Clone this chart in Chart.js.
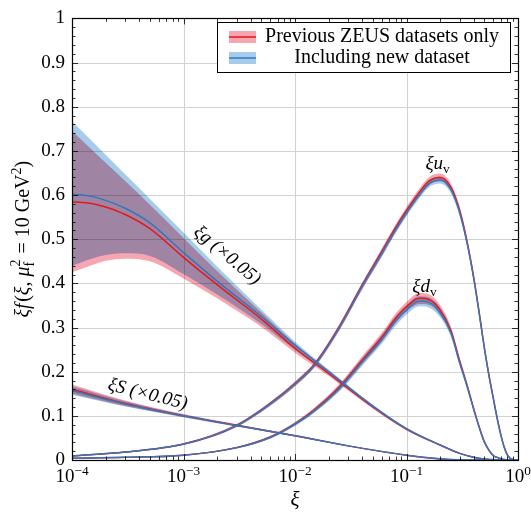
<!DOCTYPE html>
<html><head><meta charset="utf-8">
<script src="https://cdn.jsdelivr.net/npm/chart.js@4.4.1/dist/chart.umd.min.js"></script>
<style>html,body{margin:0;padding:0;background:#fff}#wrap{width:531px;height:512px}</style>
</head><body><div id="wrap"><canvas id="c" width="531" height="512"></canvas></div>
<script>
// ---------- data ----------
const xiGluon = [1e-4,1.5e-4,2e-4,3e-4,5e-4,1e-3,2e-3,5e-3,1e-2,2e-2,5e-2,0.1,0.2,0.3,0.5,0.7,1];
const gluonNew    = [0.602,0.597,0.588,0.570,0.537,0.470,0.405,0.325,0.260,0.200,0.122,0.071,0.034,0.015,0.002,0.0005,0];
const gluonPrev   = [0.585,0.581,0.573,0.556,0.524,0.459,0.397,0.319,0.253,0.196,0.120,0.070,0.034,0.015,0.002,0.0005,0];
const gluonNewHi  = [0.767,0.723,0.691,0.647,0.591,0.515,0.438,0.340,0.268,0.205,0.125,0.073,0.035,0.016,0.003,0.001,0];
const gluonNewLo  = [0.440,0.456,0.464,0.468,0.462,0.421,0.375,0.308,0.249,0.194,0.118,0.068,0.032,0.014,0.001,0,0];
const gluonPrevHi = [0.745,0.703,0.673,0.632,0.578,0.503,0.428,0.334,0.263,0.202,0.124,0.072,0.035,0.016,0.003,0.001,0];
const gluonPrevLo = [0.425,0.441,0.451,0.456,0.450,0.411,0.366,0.301,0.243,0.190,0.116,0.067,0.032,0.014,0.001,0,0];

const xiSea = [1e-4,3e-4,1e-3,3e-3,1e-2,3e-2,0.1,0.2,0.3,0.5,1];
const seaNew    = [0.157,0.127,0.100,0.078,0.055,0.032,0.011,0.003,0.0005,0,0];
const seaPrev   = [0.160,0.128,0.1005,0.0785,0.055,0.032,0.011,0.0025,0.0005,0,0];
const seaNewHi  = [0.167,0.133,0.103,0.080,0.056,0.033,0.012,0.003,0.001,0,0];
const seaNewLo  = [0.148,0.121,0.097,0.076,0.053,0.031,0.010,0.002,0,0,0];
const seaPrevHi = [0.171,0.135,0.104,0.081,0.057,0.033,0.012,0.003,0.001,0,0];
const seaPrevLo = [0.150,0.122,0.097,0.076,0.053,0.031,0.010,0.002,0,0,0];

const xiVal = [1e-4,3e-4,1e-3,3e-3,6e-3,0.01,0.015,0.025,0.04,0.06,0.08,0.1,0.13,0.16,0.2,0.25,0.3,0.35,0.4,0.45,0.5,0.55,0.6,0.65,0.7,0.75,0.8,0.85,0.9,1];
const uvNew    = [0.009,0.018,0.036,0.078,0.127,0.172,0.215,0.300,0.393,0.468,0.522,0.560,0.600,0.626,0.634,0.612,0.560,0.490,0.412,0.330,0.252,0.190,0.140,0.095,0.058,0.030,0.012,0.004,0.001,0];
const uvPrev   = [0.009,0.018,0.036,0.078,0.128,0.173,0.217,0.302,0.396,0.472,0.527,0.565,0.606,0.632,0.640,0.618,0.565,0.494,0.415,0.332,0.253,0.191,0.140,0.095,0.058,0.030,0.012,0.004,0.001,0];
const uvNewHi  = [0.010,0.019,0.038,0.081,0.131,0.177,0.220,0.306,0.400,0.476,0.530,0.568,0.608,0.634,0.642,0.620,0.568,0.497,0.418,0.335,0.256,0.193,0.142,0.097,0.059,0.031,0.013,0.004,0.001,0];
const uvNewLo  = [0.008,0.017,0.034,0.075,0.123,0.167,0.210,0.294,0.386,0.460,0.514,0.552,0.592,0.618,0.626,0.604,0.552,0.483,0.406,0.325,0.248,0.187,0.138,0.093,0.057,0.029,0.011,0.003,0.001,0];
const uvPrevHi = [0.010,0.019,0.038,0.082,0.132,0.178,0.222,0.308,0.402,0.479,0.534,0.573,0.614,0.641,0.649,0.626,0.573,0.501,0.421,0.337,0.257,0.194,0.142,0.097,0.059,0.031,0.013,0.004,0.001,0];
const uvPrevLo = [0.008,0.017,0.034,0.075,0.123,0.167,0.210,0.293,0.386,0.461,0.516,0.555,0.596,0.623,0.631,0.610,0.557,0.487,0.409,0.327,0.249,0.188,0.138,0.093,0.057,0.029,0.011,0.003,0.001,0];

const dvNew    = [0.004,0.006,0.011,0.028,0.051,0.081,0.112,0.162,0.222,0.273,0.315,0.340,0.360,0.357,0.334,0.288,0.220,0.166,0.115,0.073,0.040,0.022,0.010,0.006,0.003,0.001,0,0,0,0];
const dvPrev   = [0.004,0.006,0.011,0.028,0.052,0.082,0.114,0.165,0.226,0.278,0.321,0.347,0.366,0.363,0.340,0.293,0.224,0.169,0.117,0.074,0.041,0.022,0.010,0.006,0.003,0.001,0,0,0,0];
const dvNewHi  = [0.005,0.007,0.012,0.030,0.054,0.085,0.117,0.169,0.231,0.283,0.326,0.351,0.371,0.368,0.345,0.297,0.227,0.171,0.119,0.076,0.042,0.023,0.011,0.007,0.003,0.001,0,0,0,0];
const dvNewLo  = [0.003,0.005,0.010,0.026,0.048,0.077,0.107,0.155,0.213,0.263,0.304,0.329,0.348,0.345,0.323,0.279,0.213,0.161,0.111,0.070,0.038,0.021,0.009,0.005,0.002,0.001,0,0,0,0];
const dvPrevHi = [0.005,0.007,0.012,0.030,0.055,0.086,0.119,0.172,0.235,0.288,0.332,0.358,0.378,0.375,0.351,0.302,0.231,0.174,0.121,0.077,0.043,0.023,0.011,0.007,0.003,0.001,0,0,0,0];
const dvPrevLo = [0.003,0.005,0.010,0.026,0.049,0.078,0.109,0.158,0.217,0.268,0.310,0.336,0.353,0.351,0.329,0.284,0.217,0.164,0.113,0.071,0.039,0.021,0.009,0.005,0.002,0.001,0,0,0,0];

const yTicks = [0,0.1,0.2,0.3,0.4,0.5,0.6,0.7,0.8,0.9,1];
const xDecades = [-4,-3,-2,-1,0];
const legendLabels = ['Previous ZEUS datasets only','Including new dataset'];

// ---------- styles ----------
const RED_LINE = '#e3191c', BLUE_LINE = '#3576ba';
const RED_BAND = 'rgb(248,165,178)', BLUE_BAND = 'rgb(165,204,234)';
const FONT = '"Liberation Serif", "Times New Roman", serif';

const pts = (xs, ys) => xs.map((x, i) => ({x, y: ys[i]}));
function band(xs, hi, lo, color, order){
  const common = {pointRadius:0, borderWidth:0, borderColor:'rgba(0,0,0,0)', cubicInterpolationMode:'monotone', order, isBand:true};
  return [
    Object.assign({data: pts(xs, hi), fill:'+1', backgroundColor: color}, common),
    Object.assign({data: pts(xs, lo), fill:false, backgroundColor: color}, common)
  ];
}
function line(xs, ys, color, order){
  return {data: pts(xs, ys), fill:false, borderColor: color, borderWidth: 1.5, pointRadius: 0,
          cubicInterpolationMode:'monotone', order, isLine:true};
}

const datasets = [
  ...band(xiGluon, gluonPrevHi, gluonPrevLo, RED_BAND, 5),
  ...band(xiGluon, gluonNewHi, gluonNewLo, BLUE_BAND, 4),
  ...band(xiSea, seaPrevHi, seaPrevLo, RED_BAND, 5),
  ...band(xiSea, seaNewHi, seaNewLo, BLUE_BAND, 4),
  ...band(xiVal, uvPrevHi, uvPrevLo, RED_BAND, 5),
  ...band(xiVal, uvNewHi, uvNewLo, BLUE_BAND, 4),
  ...band(xiVal, dvPrevHi, dvPrevLo, RED_BAND, 5),
  ...band(xiVal, dvNewHi, dvNewLo, BLUE_BAND, 4),
  line(xiGluon, gluonPrev, RED_LINE, 1),
  line(xiSea, seaPrev, RED_LINE, 1),
  line(xiVal, uvPrev, RED_LINE, 1),
  line(xiVal, dvPrev, RED_LINE, 1),
  line(xiGluon, gluonNew, BLUE_LINE, 0),
  line(xiSea, seaNew, BLUE_LINE, 0),
  line(xiVal, uvNew, BLUE_LINE, 0),
  line(xiVal, dvNew, BLUE_LINE, 0)
];

// ---------- rich text helper ----------
function segFont(it, size){ return (it ? 'italic ' : '') + size + 'px ' + FONT; }
function layoutRich(ctx, segs, size){
  let w = 0;
  const out = [];
  for (const s of segs){
    if (s.stack){
      const ss = size*0.7;
      ctx.font = segFont(s.stack.supIt, ss); const w1 = ctx.measureText(s.stack.sup).width;
      ctx.font = segFont(s.stack.subIt, ss); const w2 = ctx.measureText(s.stack.sub).width;
      out.push({x:w, s, ss});
      w += Math.max(w1, w2) + size*0.05;
    } else {
      const ss = s.pos ? size*0.7 : size;
      ctx.font = segFont(s.it, ss);
      const mw = ctx.measureText(s.t).width;
      out.push({x:w, s, ss});
      w += mw + (s.kern || 0)*size;
    }
  }
  return {w, out};
}
function drawRich(ctx, segs, size, cx, cy, angleDeg, align){
  const L = layoutRich(ctx, segs, size);
  ctx.save();
  ctx.translate(cx, cy);
  ctx.rotate((angleDeg||0)*Math.PI/180);
  ctx.fillStyle = '#000';
  ctx.textBaseline = 'alphabetic';
  ctx.textAlign = 'left';
  const x0 = align === 'left' ? 0 : -L.w/2;
  const base = size*0.33;
  for (const o of L.out){
    const s = o.s;
    if (s.stack){
      ctx.font = segFont(s.stack.supIt, o.ss); ctx.fillText(s.stack.sup, x0+o.x, base - size*0.42);
      ctx.font = segFont(s.stack.subIt, o.ss); ctx.fillText(s.stack.sub, x0+o.x, base + size*0.25);
    } else {
      ctx.font = segFont(s.it, o.ss);
      const dy = s.pos === 'sup' ? -size*0.4 : (s.pos === 'sub' ? size*0.22 : 0);
      ctx.fillText(s.t, x0+o.x, base + dy);
    }
  }
  ctx.restore();
}

// ---------- plugins ----------
const blendPlugin = {
  id:'blend',
  beforeDatasetsDraw(chart){
    const {ctx, chartArea:a, scales} = chart;
    ctx.save();
    ctx.strokeStyle = '#d2d2d2'; ctx.lineWidth = 1.1;
    for (const v of yTicks){
      const y = Math.round(scales.y.getPixelForValue(v)) + 0.5;
      ctx.beginPath(); ctx.moveTo(a.left, y); ctx.lineTo(a.right, y); ctx.stroke();
    }
    for (const e of xDecades){
      const x = Math.round(scales.x.getPixelForValue(Math.pow(10, e))) + 0.5;
      ctx.beginPath(); ctx.moveTo(x, a.top); ctx.lineTo(x, a.bottom); ctx.stroke();
    }
    ctx.restore();
    ctx.save();
    ctx.globalCompositeOperation = 'multiply';
  },
  beforeDatasetDraw(chart, args){
    if (chart.data.datasets[args.index].isLine) chart.ctx.globalCompositeOperation = 'source-over';
  },
  afterDatasetsDraw(chart){ chart.ctx.restore(); }
};

const decorPlugin = {
  id:'decor',
  afterDraw(chart){
    const {ctx, chartArea:a, scales} = chart;
    const X = scales.x, Y = scales.y;
    ctx.save();
    ctx.strokeStyle = '#000'; ctx.lineWidth = 0.8;
    for (let i = 0; i <= 50; i++){
      const v = i/50, major = i % 5 === 0, len = major ? 6 : 3.5;
      const y = Math.round(Y.getPixelForValue(v)) + 0.5;
      ctx.beginPath(); ctx.moveTo(a.left, y); ctx.lineTo(a.left+len, y); ctx.stroke();
      ctx.beginPath(); ctx.moveTo(a.right, y); ctx.lineTo(a.right-len, y); ctx.stroke();
    }
    for (const e of xDecades){
      for (let m = 1; m <= 9; m++){
        if (e === 0 && m > 1) break;
        const v = m*Math.pow(10, e), major = m === 1, len = major ? 6 : 3.5;
        const x = Math.round(X.getPixelForValue(v)) + 0.5;
        ctx.beginPath(); ctx.moveTo(x, a.bottom); ctx.lineTo(x, a.bottom-len); ctx.stroke();
        ctx.beginPath(); ctx.moveTo(x, a.top); ctx.lineTo(x, a.top+len); ctx.stroke();
      }
    }
    ctx.lineWidth = 1.2;
    ctx.strokeRect(Math.round(a.left)+0.5, Math.round(a.top)+0.5, Math.round(a.right-a.left), Math.round(a.bottom-a.top));
    ctx.restore();

    for (const e of xDecades){
      const x = X.getPixelForValue(Math.pow(10, e));
      const exp = e < 0 ? '\u2212' + (-e) : String(e);
      drawRich(ctx, [{t:'10'}, {t:exp, pos:'sup'}], 19, x, a.bottom + 16, 0);
    }
    drawRich(ctx, [{t:'\u03be', it:true}], 21, (a.left+a.right)/2, a.bottom + 39, 0);
    drawRich(ctx, [
      {t:'\u03be', it:true}, {t:'f', it:true, kern:0.08}, {t:'('}, {t:'\u03be', it:true}, {t:', '},
      {t:'\u03bc', it:true}, {stack:{sup:'2', sub:'f', supIt:false, subIt:false}},
      {t:' = 10 GeV'}, {t:'2', pos:'sup'}, {t:')'}
    ], 20, 22, (a.top+a.bottom)/2, -90);

    const P = (xi, v) => [X.getPixelForValue(xi), Y.getPixelForValue(v)];
    let p;
    p = P(0.19, 0.674);
    drawRich(ctx, [{t:'\u03be', it:true}, {t:'u', it:true}, {t:'v', pos:'sub'}], 19, p[0], p[1], 0);
    p = P(0.145, 0.395);
    drawRich(ctx, [{t:'\u03be', it:true}, {t:'d', it:true}, {t:'v', pos:'sub'}], 19, p[0], p[1], 0);
    p = P(2.5e-3, 0.465);
    drawRich(ctx, [{t:'\u03be', it:true}, {t:'g', it:true}, {t:' (\u00d70.05)', it:true}], 19, p[0], p[1], 40);
    p = P(4.8e-4, 0.151);
    drawRich(ctx, [{t:'\u03be', it:true}, {t:'S', it:true}, {t:' (\u00d70.05)', it:true}], 19, p[0], p[1], 14);

    const lx = 217, ly = 22, lw = 293, lh = 50;
    ctx.save();
    ctx.fillStyle = '#fff'; ctx.fillRect(lx, ly, lw, lh);
    ctx.strokeStyle = '#000'; ctx.lineWidth = 1;
    ctx.strokeRect(lx+0.5, ly+0.5, lw, lh);
    const rows = [[RED_BAND, RED_LINE, 37], [BLUE_BAND, BLUE_LINE, 58]];
    rows.forEach((r, i) => {
      ctx.fillStyle = r[0]; ctx.fillRect(229, r[2]-6, 27, 12);
      ctx.strokeStyle = r[1]; ctx.lineWidth = 1.5;
      ctx.beginPath(); ctx.moveTo(229, r[2]); ctx.lineTo(256, r[2]); ctx.stroke();
      ctx.fillStyle = '#000'; ctx.font = '20px ' + FONT; ctx.textAlign = 'center'; ctx.textBaseline = 'alphabetic';
      ctx.fillText(legendLabels[i], 382, r[2] + 5);
    });
    ctx.restore();
  }
};

new Chart(document.getElementById('c'), {
  type: 'line',
  data: { datasets },
  options: {
    responsive: false, animation: false, devicePixelRatio: 1,
    layout: { padding: { left: 0, right: 13, top: 13, bottom: 0 } },
    plugins: { legend: { display: false }, tooltip: { enabled: false } },
    scales: {
      x: { type: 'logarithmic', min: 1e-4, max: 1,
           grid: { display: false, drawTicks: false }, border: { display: false },
           ticks: { display: false },
           afterFit: s => { s.height = 52; } },
      y: { type: 'linear', min: 0, max: 1,
           grid: { display: false, drawTicks: false }, border: { display: false },
           ticks: { stepSize: 0.1, padding: 7, color: '#000', font: { family: FONT, size: 19 },
                    callback: v => String(Number(v.toFixed(1))) },
           afterFit: s => { s.width = 72; } }
    }
  },
  plugins: [blendPlugin, decorPlugin]
});
</script>
</body></html>
